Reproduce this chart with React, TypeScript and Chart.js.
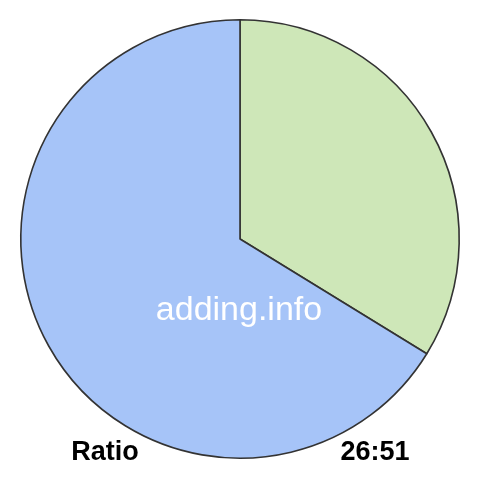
import { useEffect, useRef } from "react";
import { Chart, PieController, ArcElement } from "chart.js";

Chart.register(PieController, ArcElement);

const labels = ["26", "51"];
const values = [26, 51];
const sliceColors = ["#cee7b8", "#a6c4f8"];
const watermark = "adding.info";
const leftCaption = "Ratio";
const rightCaption = "26:51";

const textPlugin = {
  id: "captions",
  afterDraw(chart: Chart) {
    const ctx = chart.ctx;
    ctx.save();
    ctx.textAlign = "center";
    ctx.textBaseline = "alphabetic";
    ctx.fillStyle = "#ffffff";
    ctx.font = "34px 'Liberation Sans', Arial, sans-serif";
    ctx.fillText(watermark, 239, 320);
    ctx.fillStyle = "#000000";
    ctx.font = "bold 27px 'Liberation Sans', Arial, sans-serif";
    ctx.fillText(leftCaption, 105, 460);
    ctx.fillText(rightCaption, 375, 460);
    ctx.restore();
  },
};

export default function App() {
  const canvasRef = useRef<HTMLCanvasElement>(null);
  const chartRef = useRef<Chart | null>(null);

  useEffect(() => {
    document.body.style.margin = "0";
    if (!canvasRef.current) return;
    chartRef.current?.destroy();

    chartRef.current = new Chart(canvasRef.current, {
      type: "pie",
      data: {
        labels,
        datasets: [{
          data: values,
          backgroundColor: sliceColors,
          borderColor: "#333333",
          borderWidth: 1.6,
        }],
      },
      options: {
        responsive: false,
        animation: false,
        layout: { padding: { top: 19, bottom: 21, left: 20, right: 20 } },
        plugins: { legend: { display: false }, tooltip: { enabled: false } },
      },
      plugins: [textPlugin],
    });

    return () => { chartRef.current?.destroy(); };
  }, []);

  return <canvas ref={canvasRef} width={480} height={480} style={{ display: "block" }} />;
}
